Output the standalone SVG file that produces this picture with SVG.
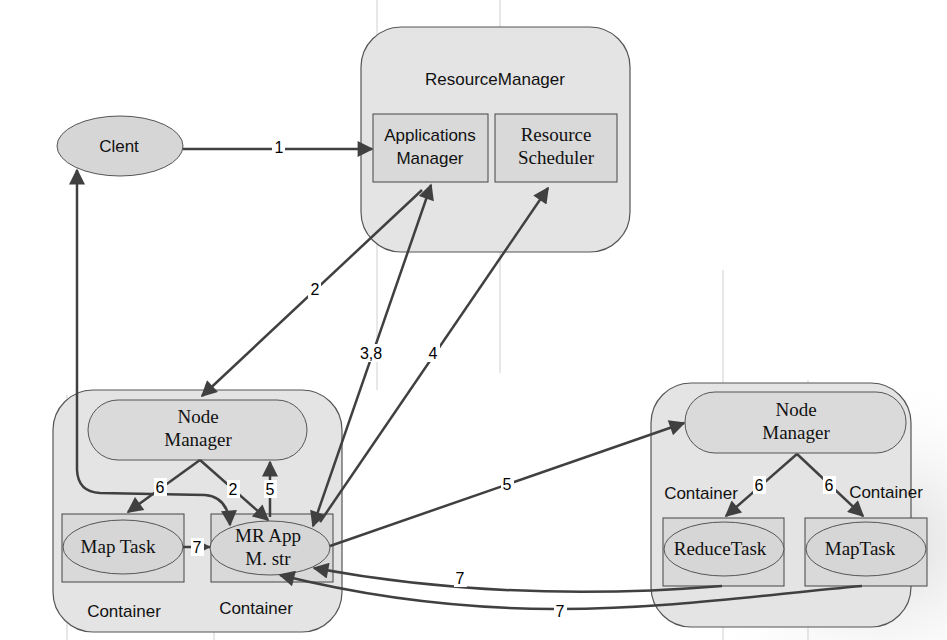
<svg xmlns="http://www.w3.org/2000/svg" width="947" height="640" viewBox="0 0 947 640">
<defs>
<style>
.host{fill:#e4e4e4;stroke:#555;stroke-width:1.2}
.box{fill:#d9d9d9;stroke:#444;stroke-width:1}
.ell{fill:#d6d6d6;stroke:#555;stroke-width:1}
.pill{fill:#dadada;stroke:#555;stroke-width:1}
.sans{font-family:"Liberation Sans",Arial,sans-serif;font-size:17px;fill:#111;text-anchor:middle}
.serif{font-family:"Liberation Serif","Times New Roman",serif;font-size:19px;fill:#111;text-anchor:middle}
.lbl{font-family:"Liberation Sans",Arial,sans-serif;font-size:16px;fill:#000;text-anchor:middle}
.lb{fill:#fff}
.c{fill:none;stroke:#404040;stroke-width:2.5}
.grid{stroke:#cfcfcf;stroke-width:1}
</style>
<marker id="ah" viewBox="0 0 10 10" refX="9" refY="5" markerWidth="8" markerHeight="8" markerUnits="userSpaceOnUse" orient="auto-start-reverse">
<path d="M0,0 L10,5 L0,10 z" fill="#404040"/>
</marker>
<marker id="a" viewBox="0 0 10 10" refX="9" refY="5" markerWidth="18" markerHeight="16" markerUnits="userSpaceOnUse" orient="auto-start-reverse">
<path d="M0,0 L10,5 L0,10 z" fill="#404040"/>
</marker>
<radialGradient id="bg" cx="0.85" cy="0.75" r="0.45">
<stop offset="0" stop-color="#d8d8d8"/>
<stop offset="1" stop-color="#ffffff" stop-opacity="0"/>
</radialGradient>
</defs>
<rect width="947" height="640" fill="#fff"/>
<rect x="500" y="250" width="447" height="390" fill="url(#bg)"/>
<g id="grid">
<line class="grid" x1="377" y1="0" x2="377" y2="390"/>
<line class="grid" x1="500" y1="0" x2="500" y2="373"/>
<line class="grid" x1="67" y1="395" x2="67" y2="640"/>
<line class="grid" x1="214" y1="395" x2="214" y2="640"/>
<line class="grid" x1="723" y1="270" x2="723" y2="640"/>
<line class="grid" x1="808" y1="380" x2="808" y2="640"/>
</g>
<g id="client">
<ellipse class="ell" cx="120" cy="146" rx="63" ry="30" fill="#e2e2e2"/>
<text class="sans" x="119" y="152">Clent</text>
</g>
<g id="resourcemanager">
<rect class="host" x="361" y="27" width="269" height="225" rx="40"/>
<text class="sans" x="495" y="85">ResourceManager</text>
</g>
<g id="applicationsmanager">
<rect class="box" x="373" y="114" width="115" height="68"/>
<text class="sans" x="430" y="141">Applications</text>
<text class="sans" x="430" y="164">Manager</text>
</g>
<g id="resourcescheduler">
<rect class="box" x="495" y="114" width="122" height="68"/>
<text class="serif" x="556" y="141">Resource</text>
<text class="serif" x="556" y="164">Scheduler</text>
</g>
<g id="nodehost1">
<rect class="host" x="53" y="390" width="289" height="242" rx="40"/>
<text class="sans" x="124" y="617">Container</text>
<text class="sans" x="256" y="614">Container</text>
</g>
<g id="nodemanager1">
<rect class="pill" x="88" y="400" width="219" height="60" rx="30"/>
<text class="serif" x="198" y="423">Node</text>
<text class="serif" x="198" y="446">Manager</text>
</g>
<g id="maptask1">
<rect class="box" x="62" y="514" width="122" height="68"/>
<ellipse class="ell" cx="123" cy="547" rx="60" ry="27"/>
<text class="serif" x="118" y="553">Map Task</text>
</g>
<g id="mrappmaster">
<rect class="box" x="211" y="514" width="122" height="68"/>
<ellipse class="ell" cx="270" cy="548" rx="60" ry="27"/>
<text class="serif" x="268" y="542">MR App</text>
<text class="serif" x="268" y="565">M. str</text>
</g>
<g id="nodehost2">
<rect class="host" x="651" y="383" width="260" height="244" rx="40"/>
<text class="sans" x="701" y="499">Container</text>
<text class="sans" x="886" y="498">Container</text>
</g>
<g id="nodemanager2">
<rect class="pill" x="685" y="392" width="221" height="61" rx="30"/>
<text class="serif" x="796" y="416">Node</text>
<text class="serif" x="796" y="439">Manager</text>
</g>
<g id="reducetask">
<rect class="box" x="663" y="518" width="121" height="68"/>
<ellipse class="ell" cx="724" cy="549" rx="60" ry="27"/>
<text class="serif" x="720" y="555">ReduceTask</text>
</g>
<g id="maptask2">
<rect class="box" x="805" y="518" width="122" height="68"/>
<ellipse class="ell" cx="866" cy="549" rx="60" ry="27"/>
<text class="serif" x="860" y="555">MapTask</text>
</g>
<g id="connectors">
<path class="c" d="M183,149 L372,149" marker-end="url(#a)"/>
<path class="c" d="M422,190 L202,396" marker-end="url(#a)"/>
<path class="c" d="M313,526 L431,185" marker-start="url(#a)" marker-end="url(#a)"/>
<path class="c" d="M320,522 L548,188" marker-end="url(#a)"/>
<path class="c" d="M77,170 L77,470 Q78,492 100,493 L205,495 Q228,497 230,525" marker-start="url(#a)" marker-end="url(#a)"/>
<path class="c" d="M200,460 L128,512" marker-end="url(#a)"/>
<path class="c" d="M200,460 L268,520" marker-end="url(#a)"/>
<path class="c" d="M270,517 L270,462" marker-end="url(#a)"/>
<path class="c" d="M183,547 L210,547" marker-end="url(#ah)"/>
<path class="c" d="M330,546 L684,423" marker-end="url(#a)"/>
<path class="c" d="M797,454 L726,516" marker-end="url(#a)"/>
<path class="c" d="M797,454 L863,516" marker-end="url(#a)"/>
<path class="c" d="M722,586 C600,596 460,595 314,568" marker-end="url(#a)"/>
<path class="c" d="M862,586 C700,600 520,635 280,575" marker-end="url(#a)"/>
<rect class="lb" x="272" y="138" width="13" height="18"/>
<text class="lbl" x="279" y="153">1</text>
<rect class="lb" x="308" y="280" width="13" height="18"/>
<text class="lbl" x="315" y="295">2</text>
<rect class="lb" x="358" y="344" width="26" height="18"/>
<text class="lbl" x="371" y="359">3,8</text>
<rect class="lb" x="427" y="344" width="13" height="18"/>
<text class="lbl" x="433" y="359">4</text>
<rect class="lb" x="154" y="478" width="13" height="18"/>
<text class="lbl" x="160" y="493">6</text>
<rect class="lb" x="227" y="480" width="13" height="18"/>
<text class="lbl" x="233" y="495">2</text>
<rect class="lb" x="264" y="480" width="13" height="18"/>
<text class="lbl" x="270" y="495">5</text>
<rect class="lb" x="191" y="538" width="13" height="18"/>
<text class="lbl" x="197" y="553">7</text>
<rect class="lb" x="501" y="475" width="13" height="18"/>
<text class="lbl" x="507" y="490">5</text>
<rect class="lb" x="753" y="476" width="13" height="18"/>
<text class="lbl" x="759" y="491">6</text>
<rect class="lb" x="823" y="476" width="13" height="18"/>
<text class="lbl" x="829" y="491">6</text>
<rect class="lb" x="454" y="569" width="13" height="18"/>
<text class="lbl" x="460" y="584">7</text>
<rect class="lb" x="554" y="602" width="13" height="18"/>
<text class="lbl" x="560" y="617">7</text>
</g>
</svg>
